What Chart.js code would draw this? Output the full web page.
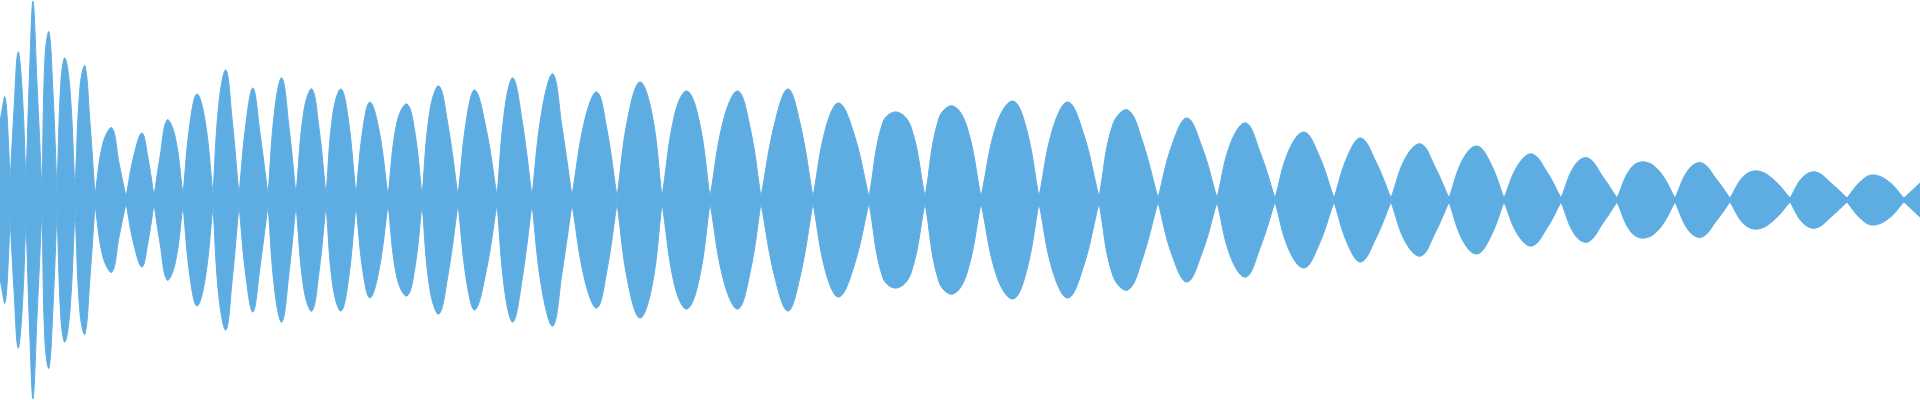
<!DOCTYPE html>
<html>
<head>
<meta charset="utf-8">
<script src="https://cdn.jsdelivr.net/npm/chart.js@4/dist/chart.umd.min.js"></script>
<style>
html, body { margin: 0; padding: 0; background: #ffffff; }
#wrap { width: 1920px; height: 400px; position: relative; }
</style>
</head>
<body>
<div id="wrap"><canvas id="waveChart"></canvas></div>
<script>
// Envelope (sample index vs amplitude).
// nodes = pinch points between lobes, rise/peak/fall = three points on each lobe
const nodeX = [0, 10, 26, 42, 57, 75, 95, 126, 154, 183,
  213, 239, 268, 296, 326, 356, 388, 422, 458, 497,
  532, 572, 617, 662, 710, 761, 813, 869, 925, 981,
  1039, 1099, 1158, 1217, 1275, 1334, 1391, 1449, 1504, 1561,
  1617, 1675, 1730, 1790, 1847, 1904, 1920];
const nodeAmp = [78, 17, 18, 9, 9, 9, 5, 3, 4, 5,
  6, 5, 5, 5, 5, 5, 4, 4, 4, 4,
  4, 4, 3, 3, 3, 3, 3, 3, 3, 3,
  3, 3, 2, 2, 2, 2, 2, 2, 2, 2,
  2, 2, 2, 2, 2, 2, 17];

const riseX = [2, 14, 30, 45, 61, 80, 103, 134, 160, 190,
  219, 246, 275, 304, 333, 363, 397, 430, 467, 505,
  542, 585, 628, 675, 724, 775, 826, 883, 939, 997,
  1053, 1113, 1172, 1231, 1289, 1348, 1406, 1463, 1518, 1575,
  1631, 1689, 1744, 1803, 1860];
const riseAmp = [90, 90, 140, 143, 120, 113, 57, 45, 43, 77,
  98, 77, 93, 90, 87, 72, 78, 90, 84, 93,
  90, 81, 83, 87, 82, 78, 73, 78, 82, 77,
  72, 76, 55, 58, 50, 45, 43, 41, 35, 35,
  32, 31, 24, 23, 18];

const peakX = [5, 18, 33, 49, 65, 85, 112, 142, 167, 197,
  226, 253, 282, 312, 341, 370, 407, 439, 475, 513,
  553, 597, 640, 687, 738, 788, 839, 897, 953, 1013,
  1068, 1128, 1187, 1246, 1304, 1361, 1421, 1477, 1532, 1588,
  1645, 1702, 1758, 1816, 1872];
const peakAmp = [103, 148, 199, 168, 142, 134, 72, 67, 80, 106,
  130, 112, 122, 111, 111, 98, 96, 114, 110, 122,
  126, 108, 118, 109, 109, 111, 97, 88, 94, 99,
  98, 90, 82, 77, 68, 62, 56, 54, 46, 42,
  38, 37, 29, 28, 25];

const fallX = [8, 22, 37, 53, 70, 90, 119, 148, 175, 205,
  232, 260, 289, 319, 348, 379, 415, 448, 486, 522,
  562, 607, 652, 699, 750, 800, 854, 911, 967, 1026,
  1083, 1142, 1202, 1260, 1318, 1376, 1435, 1490, 1547, 1603,
  1660, 1717, 1774, 1832, 1888];
const fallAmp = [67, 112, 117, 107, 110, 77, 37, 42, 64, 80,
  82, 67, 73, 72, 83, 70, 67, 75, 72, 80,
  73, 70, 86, 80, 73, 77, 66, 73, 73, 73,
  68, 60, 53, 48, 47, 38, 33, 38, 28, 23,
  28, 20, 20, 16, 19];

// build the outline; interior nodes are doubled so the curve pinches there
const upper = [];
const lower = [];
function addPoint(x, a) {
  upper.push({ x: x, y: a });
  lower.push({ x: x, y: -a });
}
const last = nodeX.length - 1;
for (let i = 0; i < nodeX.length; i++) {
  addPoint(nodeX[i], nodeAmp[i]);
  if (i > 0 && i < last) addPoint(nodeX[i], nodeAmp[i]);
  if (i < peakX.length) {
    addPoint(riseX[i], riseAmp[i]);
    addPoint(peakX[i], peakAmp[i]);
    addPoint(fallX[i], fallAmp[i]);
  }
}

const waveColor = '#5dade2';

const ctx = document.getElementById('waveChart').getContext('2d');
new Chart(ctx, {
  type: 'line',
  data: {
    datasets: [{
      data: upper,
      borderColor: waveColor,
      borderWidth: 1,
      fill: false,
      pointRadius: 0,
      tension: 0.4
    }, {
      data: lower,
      borderColor: waveColor,
      backgroundColor: waveColor,
      borderWidth: 1,
      fill: '-1',
      pointRadius: 0,
      tension: 0.4
    }]
  },
  options: {
    responsive: true,
    maintainAspectRatio: false,
    animation: false,
    layout: { padding: 0 },
    plugins: {
      legend: { display: false },
      tooltip: { enabled: false }
    },
    scales: {
      x: { type: 'linear', min: 0, max: 1920, display: false },
      y: { min: -200, max: 200, display: false }
    }
  }
});
</script>
</body>
</html>
